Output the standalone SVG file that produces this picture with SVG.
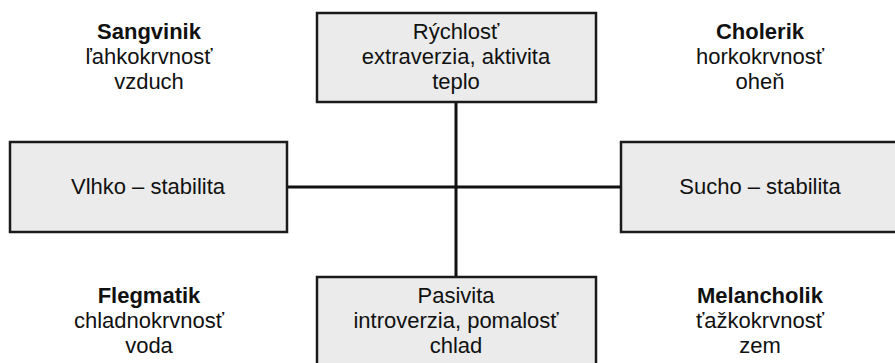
<svg xmlns="http://www.w3.org/2000/svg" width="895" height="363" viewBox="0 0 895 363">
<style>
.box{fill:#eaebea;stroke:#1a1a1a;stroke-width:2.5}
.t{font-family:"Liberation Sans",Arial,sans-serif;font-size:22px;fill:#111;text-anchor:middle}
.b{font-weight:bold}
.c{stroke:#111;stroke-width:3;fill:none}
</style>
<rect width="895" height="363" fill="#fff"/>
<g id="connectors">
<line class="c" x1="456" y1="102" x2="456" y2="276"/>
<line class="c" x1="287" y1="187" x2="621" y2="187"/>
</g>
<g id="top">
<rect class="box" x="317" y="13" width="279" height="89"/>
<text class="t" x="456" y="38.5">Rýchlosť</text>
<text class="t" x="456" y="63.5">extraverzia, aktivita</text>
<text class="t" x="456" y="88.5">teplo</text>
</g>
<g id="left">
<rect class="box" x="10" y="142" width="277" height="90"/>
<text class="t" x="148" y="194">Vlhko – stabilita</text>
</g>
<g id="right">
<rect class="box" x="621" y="142" width="290" height="90"/>
<text class="t" x="760" y="194">Sucho – stabilita</text>
</g>
<g id="bottom">
<rect class="box" x="317" y="277" width="279" height="100"/>
<text class="t" x="456" y="302.5">Pasivita</text>
<text class="t" x="456" y="327.5">introverzia, pomalosť</text>
<text class="t" x="456" y="352.5">chlad</text>
</g>
<g id="sangvinik">
<text class="t b" x="149" y="38.5">Sangvinik</text>
<text class="t" x="149" y="63.5">ľahkokrvnosť</text>
<text class="t" x="149" y="88.5">vzduch</text>
</g>
<g id="cholerik">
<text class="t b" x="760" y="38.5">Cholerik</text>
<text class="t" x="760" y="63.5">horkokrvnosť</text>
<text class="t" x="760" y="88.5">oheň</text>
</g>
<g id="flegmatik">
<text class="t b" x="149" y="302.5">Flegmatik</text>
<text class="t" x="149" y="327.5">chladnokrvnosť</text>
<text class="t" x="149" y="352.5">voda</text>
</g>
<g id="melancholik">
<text class="t b" x="760" y="302.5">Melancholik</text>
<text class="t" x="760" y="327.5">ťažkokrvnosť</text>
<text class="t" x="760" y="352.5">zem</text>
</g>
</svg>
